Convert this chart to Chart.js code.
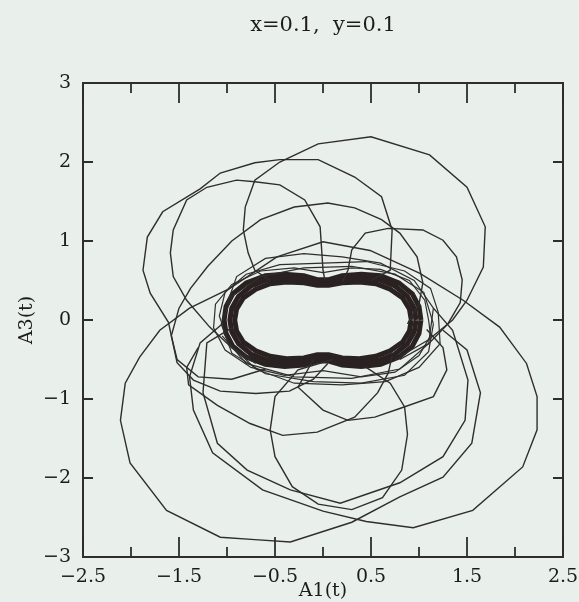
<!DOCTYPE html>
<html>
<head>
<meta charset="utf-8">
<title>x=0.1, y=0.1</title>
<script src="https://cdn.jsdelivr.net/npm/chart.js@4.4.1/dist/chart.umd.min.js"></script>
<style>
  html, body { margin: 0; padding: 0; background: #e9efeb; }
  #wrap { width: 579px; height: 602px; }
</style>
</head>
<body>
<div id="wrap"><canvas id="orbitChart" width="579" height="602"></canvas></div>
<script>
// --- DATOS ---
const chartTitle = "x=0.1,  y=0.1";
const xTitle = "A1(t)";
const yTitle = "A3(t)";
const xLabelTicks = [-2.5, -1.5, -0.5, 0.5, 1.5, 2.5];
const xMinorTicks = [-2, -1, 0, 1, 2];
const yTicks = [-3, -2, -1, 0, 1, 2, 3];

// nucleo (banda gruesa)
const coreOuter = [[1.02,0],[1.0,0.17],[0.93,0.33],[0.79,0.47],[0.6,0.56],[0.4,0.58],[0.2,0.56],[0.06,0.51],[-0.06,0.51],[-0.2,0.56],[-0.4,0.58],[-0.6,0.56],[-0.8,0.47],[-0.94,0.33],[-1.01,0.17],[-1.03,0],[-1.01,-0.17],[-0.94,-0.33],[-0.8,-0.47],[-0.6,-0.56],[-0.4,-0.59],[-0.2,-0.57],[-0.06,-0.52],[0.06,-0.52],[0.2,-0.57],[0.4,-0.59],[0.6,-0.56],[0.79,-0.47],[0.93,-0.33],[1.0,-0.17],[1.02,0]];
const coreMid = [[0.97,0],[0.95,0.15],[0.88,0.3],[0.75,0.43],[0.58,0.51],[0.4,0.53],[0.2,0.51],[0.05,0.47],[-0.05,0.47],[-0.2,0.51],[-0.4,0.53],[-0.58,0.51],[-0.75,0.43],[-0.88,0.3],[-0.95,0.15],[-0.97,0],[-0.95,-0.15],[-0.88,-0.3],[-0.75,-0.43],[-0.58,-0.51],[-0.4,-0.54],[-0.2,-0.52],[-0.05,-0.48],[0.05,-0.48],[0.2,-0.52],[0.4,-0.54],[0.58,-0.51],[0.75,-0.43],[0.88,-0.3],[0.95,-0.15],[0.97,0]];
const coreInner = [[0.92,0],[0.9,0.14],[0.83,0.28],[0.7,0.39],[0.55,0.46],[0.38,0.48],[0.2,0.47],[0.06,0.44],[-0.06,0.44],[-0.2,0.47],[-0.38,0.48],[-0.55,0.46],[-0.7,0.39],[-0.83,0.28],[-0.9,0.14],[-0.92,0],[-0.9,-0.14],[-0.83,-0.28],[-0.7,-0.39],[-0.55,-0.46],[-0.38,-0.49],[-0.2,-0.48],[-0.06,-0.44],[0.06,-0.44],[0.2,-0.48],[0.38,-0.49],[0.55,-0.46],[0.7,-0.39],[0.83,-0.28],[0.9,-0.14],[0.92,0]];

// anillos finos alrededor del nucleo
const haloA = [[1.1,0],[1.06,0.25],[0.9,0.5],[0.6,0.64],[0.3,0.66],[0.0,0.6],[-0.3,0.66],[-0.65,0.62],[-0.95,0.45],[-1.12,0.2],[-1.14,-0.1],[-1.02,-0.38],[-0.75,-0.6],[-0.4,-0.7],[0.0,-0.64],[0.4,-0.72],[0.75,-0.66],[1.0,-0.45],[1.12,-0.2],[1.1,0]];
const haloB = [[1.2,0.1],[1.12,0.4],[0.85,0.62],[0.45,0.74],[0.0,0.72],[-0.45,0.7],[-0.8,0.58],[-1.02,0.35],[-1.08,0.05],[-0.98,-0.3],[-0.7,-0.62],[-0.3,-0.8],[0.2,-0.82],[0.65,-0.78],[1.0,-0.6],[1.22,-0.3],[1.2,0.1]];
const haloC = [[-1.0,0.2],[-0.9,0.55],[-0.6,0.78],[-0.2,0.84],[0.2,0.8],[0.6,0.72],[0.95,0.5],[1.15,0.15],[1.1,-0.3],[0.8,-0.62],[0.3,-0.74],[-0.3,-0.72],[-0.8,-0.55],[-1.05,-0.2]];
const haloD = [[1.15,-0.05],[1.05,0.35],[0.75,0.58],[0.3,0.68],[-0.2,0.66],[-0.65,0.55],[-0.95,0.3],[-1.06,-0.05],[-0.95,-0.42],[-0.6,-0.68],[-0.1,-0.78],[0.4,-0.8],[0.85,-0.7],[1.1,-0.4],[1.15,-0.05]];

// lazos grandes
const loopTop = [[-0.55,0.5],[-0.71,0.63],[-0.78,0.85],[-0.83,1.14],[-0.81,1.43],[-0.71,1.77],[-0.45,2.0],[-0.05,2.23],[0.5,2.32],[1.11,2.09],[1.5,1.68],[1.69,1.18],[1.67,0.67],[1.5,0.25],[1.35,0.0],[1.1,-0.25],[0.75,-0.5]];
const loopTopLeft = [[0.5,0.5],[0.7,0.63],[0.72,1.14],[0.61,1.56],[0.33,1.81],[-0.05,2.03],[-0.45,2.03],[-0.71,1.99],[-1.07,1.86],[-1.28,1.66],[-1.67,1.37],[-1.83,1.05],[-1.875,0.63],[-1.8,0.34],[-1.61,-0.03],[-1.52,-0.54],[-1.35,-0.76],[-1.07,-0.9],[-0.7,-0.93],[-0.35,-0.9],[-0.1,-0.75],[0.05,-0.55]];
const loopInnerLeft = [[0.02,0.5],[0.0,0.63],[-0.03,1.18],[-0.19,1.52],[-0.45,1.71],[-0.71,1.75],[-0.9,1.77],[-1.21,1.68],[-1.42,1.52],[-1.56,1.14],[-1.59,0.85],[-1.56,0.55],[-1.42,0.25],[-1.18,-0.09],[-0.95,-0.35],[-0.7,-0.55]];
const arcMid = [[-0.6,-0.62],[-0.95,-0.75],[-1.3,-0.72],[-1.52,-0.5],[-1.58,-0.2],[-1.5,0.15],[-1.38,0.4],[-1.2,0.68],[-0.95,1.0],[-0.65,1.27],[-0.3,1.43],[0.05,1.48],[0.33,1.42],[0.61,1.27],[0.8,1.1],[0.98,0.8],[1.04,0.47],[1.0,0.2],[0.88,-0.05]];
const loopRightMid = [[0.2,0.48],[0.26,0.63],[0.3,0.89],[0.44,1.1],[0.68,1.16],[1.04,1.14],[1.25,1.01],[1.39,0.8],[1.45,0.51],[1.43,0.22],[1.3,-0.05],[1.1,-0.3],[0.8,-0.5]];
const loopBig = [[1.25,-0.13],[1.5,-0.38],[1.64,-0.92],[1.55,-1.56],[1.25,-1.99],[0.8,-2.24],[0.3,-2.56],[-0.34,-2.81],[-0.71,-2.78],[-1.07,-2.75],[-1.63,-2.41],[-2.01,-1.81],[-2.11,-1.27],[-2.06,-0.8],[-1.91,-0.47],[-1.7,-0.13],[-1.39,0.15],[-1.07,0.34],[-0.97,0.4],[-0.48,0.8],[0.0,0.99],[0.49,0.88],[1.01,0.59],[1.46,0.25],[1.84,-0.09],[2.12,-0.55],[2.23,-0.97],[2.23,-1.39],[2.08,-1.86],[1.56,-2.41],[0.94,-2.63],[0.45,-2.55],[0.0,-2.42],[-0.63,-2.15],[-1.15,-1.68],[-1.35,-1.14],[-1.39,-0.72],[-1.28,-0.29],[-1.05,-0.05]];
const loopRightLow = [[-0.95,-0.1],[-1.21,-0.29],[-1.25,-0.92],[-1.1,-1.56],[-0.79,-1.9],[-0.34,-2.15],[0.18,-2.32],[0.8,-2.06],[1.25,-1.73],[1.48,-1.27],[1.51,-0.76],[1.35,-0.13],[1.15,0.15]];
const loopLow1 = [[-1.3,-0.35],[-1.42,-0.6],[-1.4,-0.82],[-1.1,-1.08],[-0.76,-1.31],[-0.42,-1.46],[-0.06,-1.42],[0.33,-1.23],[0.57,-0.92],[0.68,-0.67],[0.72,-0.45]];
const loopLow2 = [[0.1,-0.5],[-0.26,-0.63],[-0.5,-0.97],[-0.55,-1.39],[-0.5,-1.73],[-0.32,-2.11],[-0.05,-2.33],[0.3,-2.4],[0.62,-2.25],[0.82,-1.9],[0.88,-1.45],[0.85,-1.1],[0.7,-0.8],[0.45,-0.6]];
const loopLow3 = [[-0.1,-0.5],[-0.26,-0.85],[0.0,-1.14],[0.26,-1.27],[0.54,-1.23],[0.8,-1.12],[1.15,-0.97],[1.29,-0.63],[1.25,-0.35],[1.08,-0.12]];

// --- ESTILO ---
const INK = "#2f2e2d";
const CORE_INK = "#2a2220";
const TEXT_INK = "#1c1c1c";
const FONT = "'DejaVu Serif', serif";

const toXY = arr => arr.map(p => ({ x: p[0], y: p[1] }));
const fmt = v => (v < 0 ? "\u2212" : "") + Math.abs(v);

function linea(arr, ancho, color) {
  return {
    data: toXY(arr),
    showLine: true,
    borderColor: color || INK,
    borderWidth: ancho,
    pointRadius: 0,
    tension: 0,
    fill: false
  };
}

const datasets = [
  linea(loopTop, 1.4), linea(loopTopLeft, 1.4), linea(loopInnerLeft, 1.4),
  linea(arcMid, 1.4), linea(loopRightMid, 1.4), linea(loopBig, 1.4),
  linea(loopRightLow, 1.4), linea(loopLow1, 1.4), linea(loopLow2, 1.4), linea(loopLow3, 1.4),
  linea(haloA, 1.2), linea(haloB, 1.2), linea(haloC, 1.2), linea(haloD, 1.2),
  linea(coreOuter, 5, CORE_INK), linea(coreMid, 5, CORE_INK), linea(coreInner, 5, CORE_INK)
];

// marco, ticks hacia adentro y titulo
const marcoPlugin = {
  id: "marco",
  afterDraw(chart) {
    const { ctx, chartArea: a, scales } = chart;
    ctx.save();
    ctx.strokeStyle = INK;
    ctx.lineWidth = 2;
    ctx.strokeRect(a.left, a.top, a.right - a.left, a.bottom - a.top);

    ctx.lineWidth = 1.8;
    ctx.beginPath();
    xLabelTicks.forEach(v => {
      const px = scales.x.getPixelForValue(v);
      ctx.moveTo(px, a.top); ctx.lineTo(px, a.top + 20);
      ctx.moveTo(px, a.bottom); ctx.lineTo(px, a.bottom - 20);
    });
    xMinorTicks.forEach(v => {
      const px = scales.x.getPixelForValue(v);
      ctx.moveTo(px, a.top); ctx.lineTo(px, a.top + 10);
      ctx.moveTo(px, a.bottom); ctx.lineTo(px, a.bottom - 10);
    });
    yTicks.forEach(v => {
      const py = scales.y.getPixelForValue(v);
      ctx.moveTo(a.left, py); ctx.lineTo(a.left + 10, py);
      ctx.moveTo(a.right, py); ctx.lineTo(a.right - 10, py);
    });
    ctx.stroke();

    ctx.fillStyle = TEXT_INK;
    ctx.font = "21px " + FONT;
    ctx.textAlign = "center";
    ctx.textBaseline = "middle";
    ctx.fillText(chartTitle, (a.left + a.right) / 2, 26);
    ctx.restore();
  }
};

new Chart(document.getElementById("orbitChart").getContext("2d"), {
  type: "scatter",
  data: { datasets },
  options: {
    responsive: false,
    animation: false,
    devicePixelRatio: 1,
    events: [],
    layout: { padding: { top: 83, right: 16, left: 0, bottom: 0 } },
    plugins: { legend: { display: false }, tooltip: { enabled: false } },
    scales: {
      x: {
        type: "linear", min: -2.5, max: 2.5,
        afterFit: s => { s.height = 45; s.paddingLeft = 0; s.paddingRight = 0; },
        afterBuildTicks: s => { s.ticks = xLabelTicks.map(v => ({ value: v })); },
        grid: { display: false, drawTicks: false },
        border: { display: false },
        ticks: { color: TEXT_INK, font: { family: FONT, size: 19 }, padding: 9, callback: v => fmt(v), maxRotation: 0, autoSkip: false },
        title: { display: true, text: xTitle, color: TEXT_INK, font: { family: FONT, size: 19 }, padding: { top: 0, bottom: 0 } }
      },
      y: {
        type: "linear", min: -3, max: 3,
        afterFit: s => { s.width = 83; s.paddingTop = 0; s.paddingBottom = 0; },
        afterBuildTicks: s => { s.ticks = yTicks.map(v => ({ value: v })); },
        grid: { display: false, drawTicks: false },
        border: { display: false },
        ticks: { color: TEXT_INK, font: { family: FONT, size: 19 }, padding: 12, callback: v => fmt(v) },
        title: { display: true, text: yTitle, color: TEXT_INK, font: { family: FONT, size: 19 }, padding: { top: 16, bottom: 0 } }
      }
    }
  },
  plugins: [marcoPlugin]
});
</script>
</body>
</html>
